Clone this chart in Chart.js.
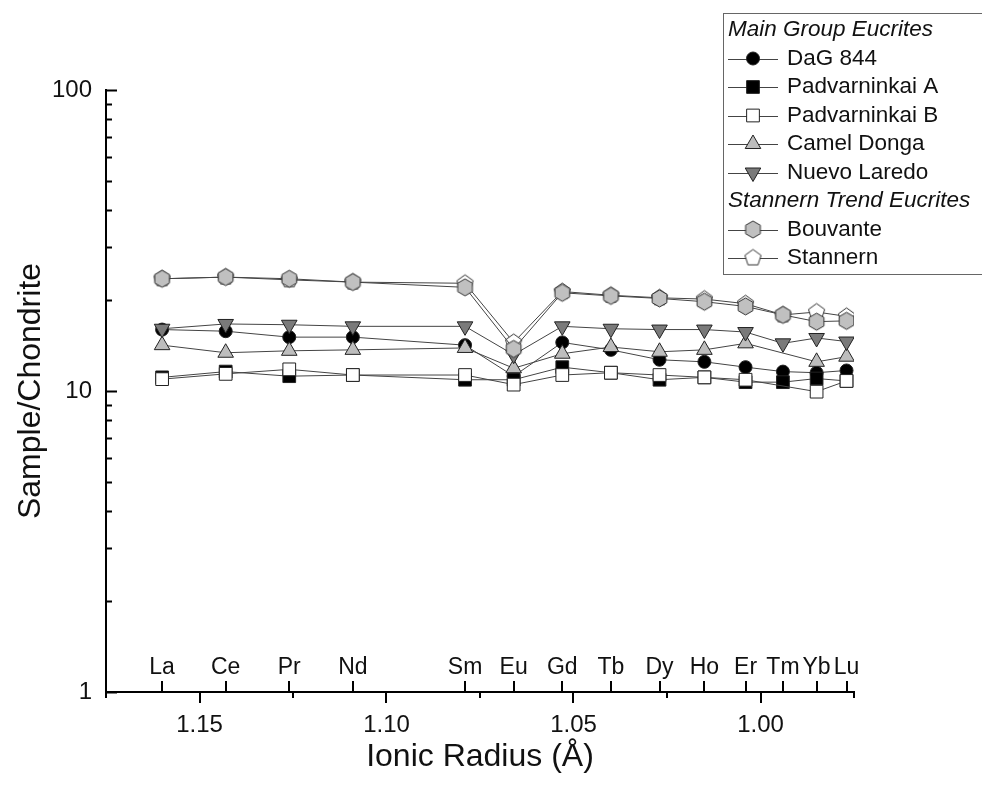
<!DOCTYPE html>
<html lang="en">
<head>
<meta charset="UTF-8">
<title>Eucrite REE patterns</title>
<script src="https://cdn.jsdelivr.net/npm/chart.js"></script>
<style>
  body { margin: 0; background: #fff; }
  #wrap { width: 982px; height: 788px; }
</style>
</head>
<body>
<div id="wrap"><canvas id="reeChart" width="982" height="788"></canvas></div>
<script>
// element labels and their ionic radii (Å)
const elements = ['La', 'Ce', 'Pr', 'Nd', 'Sm', 'Eu', 'Gd', 'Tb', 'Dy', 'Ho', 'Er', 'Tm', 'Yb', 'Lu'];
const radii = [1.160, 1.143, 1.126, 1.109, 1.079, 1.066, 1.053, 1.040, 1.027, 1.015, 1.004, 0.994, 0.985, 0.977];

// sample/chondrite (null = not shown)
const dag844       = [16.0, 15.8, 15.1, 15.1, 14.2, 11.2, 14.5, 13.7, 12.7, 12.5, 12.0, 11.6, 11.5, 11.7];
const padvarA      = [11.1, 11.6, 11.2, 11.3, 10.9, 10.9, 12.0, 11.5, 10.9, 11.1, 10.7, 10.7, 11.0, 10.8];
const padvarB      = [10.95, 11.4, 11.8, 11.3, 11.3, 10.5, 11.3, 11.5, 11.3, 11.1, 10.9, null, 9.95, 10.8];
const camelDonga   = [14.2, 13.4, 13.6, 13.7, 13.9, 11.9, 13.3, 14.0, 13.5, 13.7, 14.4, null, 12.5, 13.0];
const nuevoLaredo  = [16.1, 16.7, 16.6, 16.4, 16.4, 13.2, 16.4, 16.1, 16.0, 16.0, 15.7, 14.4, 15.0, 14.6];
const bouvante     = [23.6, 23.9, 23.6, 23.0, 22.1, 13.8, 21.2, 20.7, 20.3, 19.8, 19.1, 17.9, 17.0, 17.1];
const stannern     = [23.6, 23.9, 23.4, 23.0, 22.8, 14.5, 21.4, 20.8, 20.4, 20.2, 19.5, 17.9, 18.3, 17.7];

const xMajorTicks = [1.00, 1.05, 1.10, 1.15];
const xMinorTicks = [0.975, 1.025, 1.075, 1.125, 1.175];
const yTicks = [1, 10, 100];

function makeShape(sides, r, fill) {
    const size = 2 * Math.ceil(r) + 3;
    const c = document.createElement('canvas');
    c.width = size; c.height = size;
    const g = c.getContext('2d');
    g.beginPath();
    for (let i = 0; i < sides; i++) {
        const a = -Math.PI / 2 + i * 2 * Math.PI / sides;
        const px = size / 2 + r * Math.cos(a), py = size / 2 + r * Math.sin(a);
        if (i) g.lineTo(px, py); else g.moveTo(px, py);
    }
    g.closePath();
    g.fillStyle = fill; g.fill();
    g.strokeStyle = '#333'; g.lineWidth = 1; g.stroke();
    return c;
}
const hexagon = makeShape(6, 8.5, '#c0c0c0');
const pentagon = makeShape(5, 8.5, '#ffffff');

const toPoints = vals => radii.map((r, i) => ({ x: r, y: vals[i] }));

function series(label, vals, style, radius, fill, rotation, order) {
    return {
        label: label,
        data: toPoints(vals),
        borderColor: '#444',
        borderWidth: 1,
        pointStyle: style,
        pointRadius: radius,
        pointRotation: rotation,
        pointBackgroundColor: fill,
        pointBorderColor: '#222',
        pointBorderWidth: 1,
        spanGaps: true,
        tension: 0,
        order: order
    };
}

const datasets = [
    series('DaG 844', dag844, 'circle', 6.5, '#000', 0, 5),
    series('Padvarninkai A', padvarA, 'rect', 9, '#000', 0, 4),
    series('Padvarninkai B', padvarB, 'rect', 9, '#fff', 0, 3),
    series('Camel Donga', camelDonga, 'triangle', 9, '#bdbdbd', 0, 2),
    series('Nuevo Laredo', nuevoLaredo, 'triangle', 9, '#7a7a7a', 180, 1),
    series('Bouvante', bouvante, hexagon, 8, '#c0c0c0', 0, 0),
    series('Stannern', stannern, pentagon, 8, '#fff', 0, 6)
];

// legend rows: a string is an italic group header, a number a dataset index
const legendRows = ['Main Group Eucrites', 0, 1, 2, 3, 4, 'Stannern Trend Eucrites', 5, 6];

const extras = {
    id: 'extras',
    afterDraw(chart) {
        const { ctx, scales: { x, y } } = chart;
        const x0 = x.left, y0 = y.bottom;
        ctx.save();
        ctx.strokeStyle = '#000';
        ctx.lineWidth = 2;
        ctx.beginPath();
        // y ticks point inward
        for (let d = 1; d < 100; d *= 10) {
            for (let k = 1; k <= 10; k++) {
                const py = Math.round(y.getPixelForValue(d * k)) + 0.5;
                const len = (k === 1 || k === 10) ? 11 : 6;
                ctx.moveTo(x0, py); ctx.lineTo(x0 + len, py);
            }
        }
        // x ticks point outward
        xMajorTicks.forEach(v => {
            const px = Math.round(x.getPixelForValue(v));
            ctx.moveTo(px, y0); ctx.lineTo(px, y0 + 11);
        });
        xMinorTicks.forEach(v => {
            const px = Math.round(x.getPixelForValue(v));
            ctx.moveTo(px, y0); ctx.lineTo(px, y0 + 6);
        });
        // element ticks point up
        radii.forEach(v => {
            const px = Math.round(x.getPixelForValue(v));
            ctx.moveTo(px, y0); ctx.lineTo(px, y0 - 11);
        });
        ctx.stroke();

        ctx.fillStyle = '#111';
        ctx.font = '23px "Liberation Sans", Arial, sans-serif';
        ctx.textAlign = 'center';
        ctx.textBaseline = 'alphabetic';
        elements.forEach((el, i) => {
            ctx.fillText(el, x.getPixelForValue(radii[i]), y0 - 18);
        });

        // legend box
        const bx = 723.5, by = 13.5, bw = 280, bh = 261, rowH = 28.5;
        ctx.fillStyle = '#fff';
        ctx.fillRect(bx, by, bw, bh);
        ctx.strokeStyle = '#666';
        ctx.lineWidth = 1;
        ctx.strokeRect(bx, by, bw, bh);
        ctx.textAlign = 'left';
        ctx.textBaseline = 'middle';
        legendRows.forEach((row, i) => {
            const cy = 30 + i * rowH;
            ctx.fillStyle = '#111';
            if (typeof row === 'string') {
                ctx.font = 'italic 22.5px "Liberation Sans", Arial, sans-serif';
                ctx.fillText(row, 728, cy);
                return;
            }
            const ds = chart.data.datasets[row];
            ctx.strokeStyle = '#444';
            ctx.lineWidth = 1;
            ctx.beginPath();
            ctx.moveTo(728, Math.round(cy) + 0.5); ctx.lineTo(778, Math.round(cy) + 0.5);
            ctx.stroke();
            ctx.fillStyle = ds.pointBackgroundColor;
            ctx.strokeStyle = ds.pointBorderColor;
            Chart.helpers.drawPoint(ctx, {
                pointStyle: ds.pointStyle, radius: ds.pointRadius,
                rotation: ds.pointRotation, borderWidth: 1
            }, 753, cy);
            ctx.fillStyle = '#111';
            ctx.font = '22.5px "Liberation Sans", Arial, sans-serif';
            ctx.fillText(ds.label, 787, cy);
        });
        ctx.restore();
    }
};

const axisFont = { family: '"Liberation Sans", Arial, sans-serif', size: 24 };
const titleFont = { family: '"Liberation Sans", Arial, sans-serif', size: 32 };

new Chart(document.getElementById('reeChart'), {
    type: 'line',
    data: { datasets: datasets },
    options: {
        responsive: false,
        animation: false,
        layout: { padding: { top: 90, right: 128, left: 0, bottom: 0 } },
        plugins: { legend: { display: false }, tooltip: { enabled: false } },
        scales: {
            x: {
                type: 'linear',
                reverse: true,
                min: 0.975,
                max: 1.175,
                afterBuildTicks: s => { s.ticks = xMajorTicks.map(v => ({ value: v })); },
                afterFit: s => { s.height = 96; },
                grid: { display: false, drawTicks: false },
                border: { display: true, color: '#000', width: 2 },
                ticks: { font: axisFont, color: '#111', padding: 19, maxRotation: 0,
                         callback: v => v.toFixed(2) },
                title: { display: true, text: 'Ionic Radius (Å)', font: titleFont, color: '#111',
                         padding: { top: 0, bottom: 12 } }
            },
            y: {
                type: 'logarithmic',
                min: 1,
                max: 100,
                afterBuildTicks: s => { s.ticks = yTicks.map(v => ({ value: v })); },
                afterFit: s => { s.width = 106; },
                grid: { display: false, drawTicks: false },
                border: { display: true, color: '#000', width: 2 },
                ticks: { font: axisFont, color: '#111', padding: 14,
                         callback: v => String(v) },
                title: { display: true, text: 'Sample/Chondrite', font: titleFont, color: '#111',
                         padding: { top: 12, bottom: 0 } }
            }
        }
    },
    plugins: [extras]
});
</script>
</body>
</html>
